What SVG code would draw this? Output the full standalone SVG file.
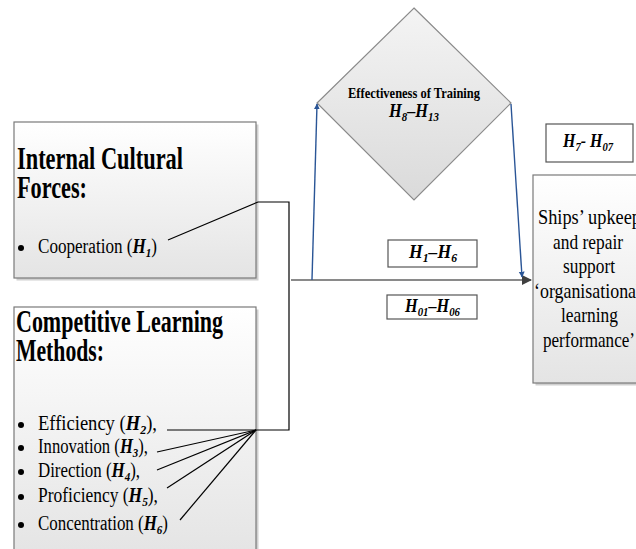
<svg xmlns="http://www.w3.org/2000/svg" width="636" height="549" viewBox="0 0 636 549">
<style>
.box{fill:url(#boxGrad);stroke:#7a7a7a;stroke-width:1.2}
.shadow{fill:#d0d0d0}
.hbox{fill:#ffffff;stroke:#555555;stroke-width:1.2}
.title{font-family:"Liberation Serif","Times New Roman",serif;font-weight:bold;font-size:31px;fill:#000}
.body{font-family:"Liberation Serif","Times New Roman",serif;font-size:20px;fill:#000}
.h{font-weight:bold;font-style:italic}
.lab{font-family:"Liberation Serif","Times New Roman",serif;font-weight:bold;font-style:italic;font-size:18px;fill:#000}
.out{font-family:"Liberation Serif","Times New Roman",serif;font-size:22px;fill:#000}
.blk{fill:none;stroke:#000;stroke-width:1.2}
.blue{fill:none;stroke:#2a5596;stroke-width:1.4}
.gray{fill:none;stroke:#8a8a8a;stroke-width:2}
</style>
<defs>
<linearGradient id="boxGrad" x1="0" y1="0" x2="0" y2="1">
<stop offset="0" stop-color="#ffffff"/>
<stop offset="1" stop-color="#e4e4e4"/>
</linearGradient>
<linearGradient id="diaGrad" x1="0" y1="0" x2="0" y2="1">
<stop offset="0" stop-color="#f4f4f4"/>
<stop offset="1" stop-color="#dadada"/>
</linearGradient>
<marker id="arrBlue" viewBox="0 0 10 10" refX="9" refY="5" markerWidth="6" markerHeight="7" orient="auto" markerUnits="userSpaceOnUse">
<path d="M0,0 L10,5 L0,10 z" fill="#2a5596"/>
</marker>
<marker id="arrGray" viewBox="0 0 10 10" refX="9" refY="5" markerWidth="10" markerHeight="10" orient="auto" markerUnits="userSpaceOnUse">
<path d="M0,0 L10,5 L0,10 z" fill="#404040"/>
</marker>
</defs>
<rect width="636" height="549" fill="#ffffff"/>

<g id="internal-cultural-forces">
<rect class="shadow" x="16.5" y="124.5" width="242" height="156"/>
<rect class="box" x="14" y="122" width="242" height="156"/>
<text class="title" x="17" y="169" textLength="166" lengthAdjust="spacingAndGlyphs">Internal Cultural</text>
<text class="title" x="17" y="198" textLength="70" lengthAdjust="spacingAndGlyphs">Forces:</text>
<circle cx="21" cy="248" r="3"/>
<text class="body" x="38" y="253" textLength="119" lengthAdjust="spacingAndGlyphs">Cooperation (<tspan class="h">H</tspan><tspan class="h" font-size="13" dy="4">1</tspan><tspan dy="-4">)</tspan></text>
</g>

<g id="competitive-learning-methods">
<rect class="shadow" x="16.5" y="309.5" width="242" height="250"/>
<rect class="box" x="14" y="307" width="242" height="250"/>
<text class="title" x="16" y="332" textLength="207" lengthAdjust="spacingAndGlyphs">Competitive Learning</text>
<text class="title" x="16" y="361" textLength="88" lengthAdjust="spacingAndGlyphs">Methods:</text>
<circle cx="21" cy="425" r="3"/>
<text class="body" x="38" y="430" textLength="119" lengthAdjust="spacingAndGlyphs">Efficiency (<tspan class="h">H</tspan><tspan class="h" font-size="13" dy="4">2</tspan><tspan dy="-4">),</tspan></text>
<circle cx="21" cy="448" r="3"/>
<text class="body" x="38" y="453" textLength="110" lengthAdjust="spacingAndGlyphs">Innovation (<tspan class="h">H</tspan><tspan class="h" font-size="13" dy="4">3</tspan><tspan dy="-4">),</tspan></text>
<circle cx="21" cy="472" r="3"/>
<text class="body" x="38" y="477" textLength="102" lengthAdjust="spacingAndGlyphs">Direction (<tspan class="h">H</tspan><tspan class="h" font-size="13" dy="4">4</tspan><tspan dy="-4">),</tspan></text>
<circle cx="21" cy="497" r="3"/>
<text class="body" x="38" y="502" textLength="120" lengthAdjust="spacingAndGlyphs">Proficiency (<tspan class="h">H</tspan><tspan class="h" font-size="13" dy="4">5</tspan><tspan dy="-4">),</tspan></text>
<circle cx="21" cy="525" r="3"/>
<text class="body" x="38" y="530" textLength="130" lengthAdjust="spacingAndGlyphs">Concentration (<tspan class="h">H</tspan><tspan class="h" font-size="13" dy="4">6</tspan><tspan dy="-4">)</tspan></text>
</g>

<g id="effectiveness-of-training">
<polygon points="414,8 511,103 414,200 317,103" fill="url(#diaGrad)" stroke="#8a8a8a" stroke-width="1.2"/>
<text x="414" y="98" text-anchor="middle" font-family="'Liberation Serif','Times New Roman',serif" font-weight="bold" font-size="15" textLength="132" lengthAdjust="spacingAndGlyphs">Effectiveness of Training</text>
<text class="lab" x="414" y="117" text-anchor="middle" textLength="50" lengthAdjust="spacingAndGlyphs">H<tspan font-size="12" dy="4">8</tspan><tspan dy="-4">–H</tspan><tspan font-size="12" dy="4">13</tspan></text>
</g>

<g id="h1-h6">
<rect class="hbox" x="388" y="240" width="89" height="27"/>
<text class="lab" x="409" y="258" textLength="48" lengthAdjust="spacingAndGlyphs">H<tspan font-size="12" dy="4">1</tspan><tspan dy="-4">–H</tspan><tspan font-size="12" dy="4">6</tspan></text>
</g>

<g id="h01-h06">
<rect class="hbox" x="387" y="295" width="90" height="24"/>
<text class="lab" x="405" y="312" textLength="55" lengthAdjust="spacingAndGlyphs">H<tspan font-size="12" dy="4">01</tspan><tspan dy="-4">–H</tspan><tspan font-size="12" dy="4">06</tspan></text>
</g>

<g id="h7-h07">
<rect class="hbox" x="546" y="124" width="87" height="38"/>
<text class="lab" x="563" y="147" textLength="50" lengthAdjust="spacingAndGlyphs">H<tspan font-size="12" dy="4">7</tspan><tspan dy="-4">- H</tspan><tspan font-size="12" dy="4">07</tspan></text>
</g>

<g id="ships-upkeep-performance">
<rect class="shadow" x="535.5" y="177.5" width="112" height="208"/>
<rect class="box" x="533" y="175" width="112" height="208"/>
<text class="out" x="538" y="224" textLength="103" lengthAdjust="spacingAndGlyphs">Ships’  upkeep</text>
<text class="out" x="553" y="249" textLength="70" lengthAdjust="spacingAndGlyphs">and repair</text>
<text class="out" x="563" y="273" textLength="52" lengthAdjust="spacingAndGlyphs">support</text>
<text class="out" x="534" y="298" textLength="107" lengthAdjust="spacingAndGlyphs">‘organisational</text>
<text class="out" x="561" y="322" textLength="57" lengthAdjust="spacingAndGlyphs">learning</text>
<text class="out" x="543" y="347" textLength="92" lengthAdjust="spacingAndGlyphs">performance’</text>
</g>

<g id="connectors">
<polyline class="blk" points="168,240 258,202 289,202 289,430 256,430"/>
<line class="blk" x1="167" y1="430" x2="256" y2="430"/>
<line class="blk" x1="157" y1="452" x2="256" y2="430"/>
<line class="blk" x1="157" y1="470" x2="256" y2="430"/>
<line class="blk" x1="167" y1="488" x2="256" y2="430"/>
<line class="blk" x1="180" y1="520" x2="256" y2="430"/>
<line class="gray" x1="291" y1="280" x2="531" y2="280" marker-end="url(#arrGray)"/>
<line class="blue" x1="312" y1="280" x2="317" y2="104" marker-end="url(#arrBlue)"/>
<line class="blue" x1="511" y1="104" x2="522" y2="277" marker-end="url(#arrBlue)"/>
</g>
</svg>
